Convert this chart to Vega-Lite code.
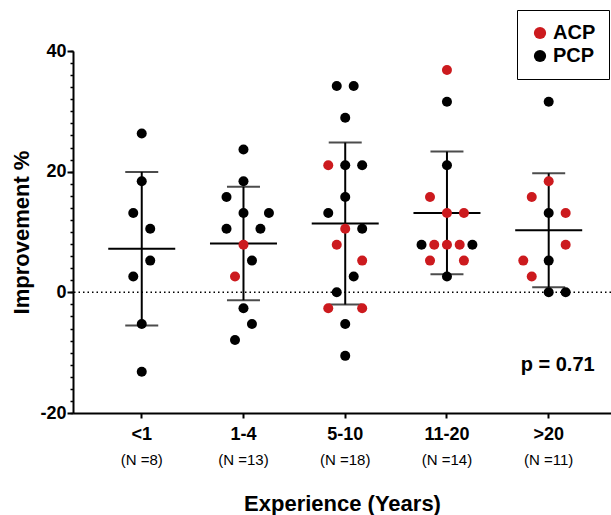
{
  "$schema": "https://vega.github.io/schema/vega-lite/v6.json",
  "width": 538,
  "height": 362,
  "autosize": {"type": "none"},
  "padding": {"left": 73, "top": 51, "right": 0, "bottom": 102},
  "config": {
    "view": {"stroke": null},
    "font": "Liberation Sans",
    "axis": {"grid": false, "domainColor": "black", "tickColor": "black", "labelColor": "black", "titleColor": "black", "labelFont": "Liberation Sans", "titleFont": "Liberation Sans"}
  },
  "datasets": {
    "pts": [
      {"exp": "<1", "v": 26.32, "slot": 0, "who": "PCP"},
      {"exp": "<1", "v": 18.42, "slot": 0, "who": "PCP"},
      {"exp": "<1", "v": 13.16, "slot": -1, "who": "PCP"},
      {"exp": "<1", "v": 10.53, "slot": 1, "who": "PCP"},
      {"exp": "<1", "v": 5.26, "slot": 1, "who": "PCP"},
      {"exp": "<1", "v": 2.63, "slot": -1, "who": "PCP"},
      {"exp": "<1", "v": -5.26, "slot": 0, "who": "PCP"},
      {"exp": "<1", "v": -13.16, "slot": 0, "who": "PCP"},
      {"exp": "1-4", "v": 23.68, "slot": 0, "who": "PCP"},
      {"exp": "1-4", "v": 18.42, "slot": 0, "who": "PCP"},
      {"exp": "1-4", "v": 15.79, "slot": -2, "who": "PCP"},
      {"exp": "1-4", "v": 13.16, "slot": 0, "who": "PCP"},
      {"exp": "1-4", "v": 13.16, "slot": 3, "who": "PCP"},
      {"exp": "1-4", "v": 10.53, "slot": -2, "who": "PCP"},
      {"exp": "1-4", "v": 10.53, "slot": 2, "who": "PCP"},
      {"exp": "1-4", "v": 7.89, "slot": 0, "who": "ACP"},
      {"exp": "1-4", "v": 5.26, "slot": 1, "who": "PCP"},
      {"exp": "1-4", "v": 2.63, "slot": -1, "who": "ACP"},
      {"exp": "1-4", "v": -2.63, "slot": 0, "who": "PCP"},
      {"exp": "1-4", "v": -5.26, "slot": 1, "who": "PCP"},
      {"exp": "1-4", "v": -7.89, "slot": -1, "who": "PCP"},
      {"exp": "5-10", "v": 34.21, "slot": -1, "who": "PCP"},
      {"exp": "5-10", "v": 34.21, "slot": 1, "who": "PCP"},
      {"exp": "5-10", "v": 28.95, "slot": 0, "who": "PCP"},
      {"exp": "5-10", "v": 21.05, "slot": -2, "who": "ACP"},
      {"exp": "5-10", "v": 21.05, "slot": 0, "who": "PCP"},
      {"exp": "5-10", "v": 21.05, "slot": 2, "who": "PCP"},
      {"exp": "5-10", "v": 15.79, "slot": 0, "who": "PCP"},
      {"exp": "5-10", "v": 13.16, "slot": -2, "who": "PCP"},
      {"exp": "5-10", "v": 10.53, "slot": 0, "who": "ACP"},
      {"exp": "5-10", "v": 10.53, "slot": 2, "who": "PCP"},
      {"exp": "5-10", "v": 7.89, "slot": -1, "who": "ACP"},
      {"exp": "5-10", "v": 5.26, "slot": 2, "who": "ACP"},
      {"exp": "5-10", "v": 2.63, "slot": 1, "who": "PCP"},
      {"exp": "5-10", "v": 0, "slot": -1, "who": "PCP"},
      {"exp": "5-10", "v": -2.63, "slot": -2, "who": "ACP"},
      {"exp": "5-10", "v": -2.63, "slot": 2, "who": "ACP"},
      {"exp": "5-10", "v": -5.26, "slot": 0, "who": "PCP"},
      {"exp": "5-10", "v": -10.53, "slot": 0, "who": "PCP"},
      {"exp": "11-20", "v": 36.84, "slot": 0, "who": "ACP"},
      {"exp": "11-20", "v": 31.58, "slot": 0, "who": "PCP"},
      {"exp": "11-20", "v": 21.05, "slot": 0, "who": "PCP"},
      {"exp": "11-20", "v": 15.79, "slot": -2, "who": "ACP"},
      {"exp": "11-20", "v": 13.16, "slot": 0, "who": "ACP"},
      {"exp": "11-20", "v": 13.16, "slot": 2, "who": "ACP"},
      {"exp": "11-20", "v": 7.89, "slot": -3, "who": "PCP"},
      {"exp": "11-20", "v": 7.89, "slot": -1.5, "who": "ACP"},
      {"exp": "11-20", "v": 7.89, "slot": 0, "who": "ACP"},
      {"exp": "11-20", "v": 7.89, "slot": 1.5, "who": "ACP"},
      {"exp": "11-20", "v": 7.89, "slot": 3, "who": "PCP"},
      {"exp": "11-20", "v": 5.26, "slot": -2, "who": "ACP"},
      {"exp": "11-20", "v": 5.26, "slot": 2, "who": "ACP"},
      {"exp": "11-20", "v": 2.63, "slot": 0, "who": "PCP"},
      {"exp": ">20", "v": 31.58, "slot": 0, "who": "PCP"},
      {"exp": ">20", "v": 18.42, "slot": 0, "who": "ACP"},
      {"exp": ">20", "v": 15.79, "slot": -2, "who": "ACP"},
      {"exp": ">20", "v": 13.16, "slot": 0, "who": "PCP"},
      {"exp": ">20", "v": 13.16, "slot": 2, "who": "ACP"},
      {"exp": ">20", "v": 7.89, "slot": 2, "who": "ACP"},
      {"exp": ">20", "v": 5.26, "slot": -3, "who": "ACP"},
      {"exp": ">20", "v": 5.26, "slot": 0, "who": "PCP"},
      {"exp": ">20", "v": 2.63, "slot": -2, "who": "ACP"},
      {"exp": ">20", "v": 0, "slot": 0, "who": "PCP"},
      {"exp": ">20", "v": 0, "slot": 2, "who": "PCP"}
    ],
    "ns": [
      {"exp": "<1", "n": "(N =8)"},
      {"exp": "1-4", "n": "(N =13)"},
      {"exp": "5-10", "n": "(N =18)"},
      {"exp": "11-20", "n": "(N =14)"},
      {"exp": ">20", "n": "(N =11)"}
    ]
  },
  "resolve": {"axis": {"y": "independent"}},
  "layer": [
    {
      "data": {"values": [{"z": 0}]},
      "mark": {"type": "rule", "color": "black", "strokeWidth": 1.5, "strokeDash": [1.5, 3]},
      "encoding": {
        "y": {"field": "z", "type": "quantitative", "scale": {"domain": [-20, 40], "nice": false, "zero": false},
          "axis": {"orient": "left", "values": [-20,-18,-16,-14,-12,-10,-8,-6,-4,-2,0,2,4,6,8,10,12,14,16,18,20,22,24,26,28,30,32,34,36,38,40], "labels": false, "domain": false, "tickSize": 3, "tickWidth": 1.5, "title": null}}
      }
    },
    {
      "data": {"name": "pts"},
      "mark": {"type": "errorbar", "extent": "stdev", "thickness": 2, "color": "black", "ticks": {"size": 33, "thickness": 2, "color": "black"}},
      "encoding": {
        "x": {"field": "exp", "type": "nominal"},
        "y": {"field": "v", "type": "quantitative", "axis": null}
      }
    },
    {
      "data": {"name": "pts"},
      "mark": {"type": "tick", "color": "black", "size": 67, "thickness": 2, "opacity": 1},
      "encoding": {
        "x": {"field": "exp", "type": "nominal"},
        "y": {"aggregate": "mean", "field": "v", "type": "quantitative", "axis": null}
      }
    },
    {
      "data": {"name": "pts"},
      "mark": {"type": "circle", "size": 100, "opacity": 1},
      "encoding": {
        "x": {"field": "exp", "type": "nominal",
          "scale": {"domain": ["<1", "1-4", "5-10", "11-20", ">20"], "paddingInner": 0, "paddingOuter": 0.144, "align": 0.61},
          "axis": {"title": "Experience (Years)", "titleFontSize": 22, "titleFontWeight": "bold", "titlePadding": 50, "labelFontSize": 18, "labelFontWeight": "bold", "labelAngle": 0, "labelAlign": "center", "labelBaseline": "top", "labelPadding": 7, "tickSize": 5, "tickWidth": 2, "domainWidth": 2}},
        "xOffset": {"field": "slot", "type": "quantitative", "scale": {"domain": [-6, 6]}},
        "y": {"field": "v", "type": "quantitative", "title": "Improvement %",
          "axis": {"orient": "left", "values": [-20, 0, 20, 40], "labelExpr": "'' + datum.value", "labelFontSize": 18, "labelFontWeight": "bold", "labelPadding": 1, "tickSize": 6, "tickWidth": 2, "domainWidth": 2, "titleFontSize": 22, "titleFontWeight": "bold", "titlePadding": 6}},
        "color": {"field": "who", "type": "nominal",
          "scale": {"domain": ["ACP", "PCP"], "range": ["#cc1a1e", "#000000"]},
          "legend": {"title": null, "orient": "none", "legendX": 444, "legendY": -41, "strokeColor": "black", "padding": 13, "labelFontSize": 20, "labelFontWeight": "bold", "labelColor": "black", "symbolType": "circle", "symbolSize": 150, "symbolStrokeWidth": 0, "labelOffset": 3, "rowPadding": 3}}
      }
    },
    {
      "data": {"name": "ns"},
      "mark": {"type": "text", "fontSize": 15, "color": "black", "baseline": "middle", "dy": 47},
      "encoding": {
        "x": {"field": "exp", "type": "nominal"},
        "y": {"datum": -20, "type": "quantitative", "axis": null},
        "text": {"field": "n"}
      }
    },
    {
      "data": {"values": [{"t": "p = 0.71", "exp": ">20", "yv": -12}]},
      "mark": {"type": "text", "fontSize": 20, "fontWeight": "bold", "color": "black", "baseline": "middle", "dx": 9},
      "encoding": {
        "x": {"field": "exp", "type": "nominal"},
        "y": {"field": "yv", "type": "quantitative", "axis": null},
        "text": {"field": "t"}
      }
    }
  ]
}
